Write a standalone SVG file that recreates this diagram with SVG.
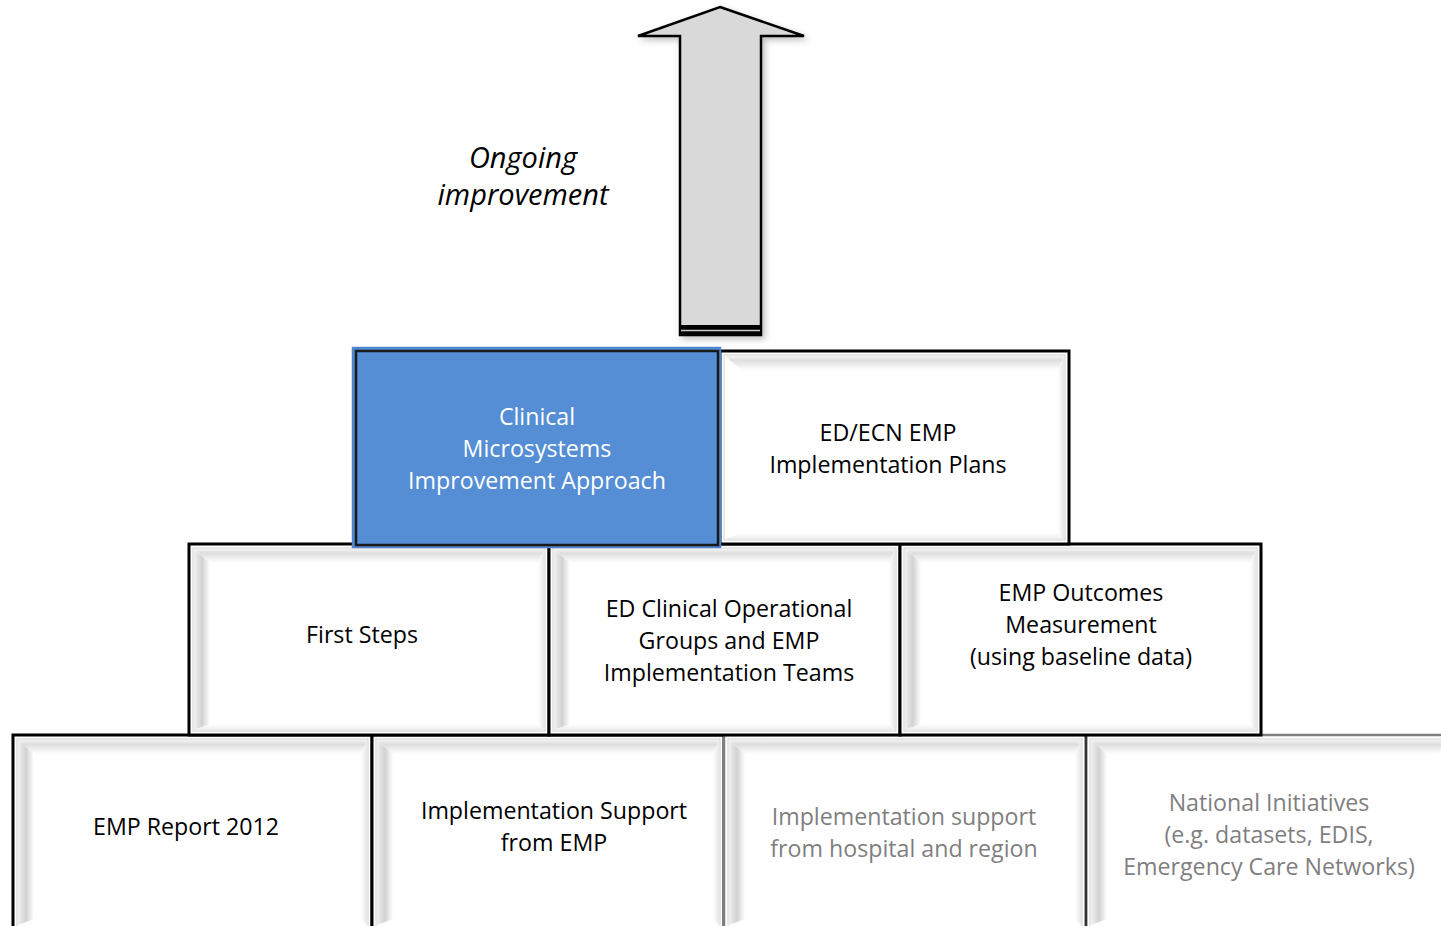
<svg xmlns="http://www.w3.org/2000/svg" width="1441" height="926" viewBox="0 0 1441 926">
<style>
.bx{fill:#ffffff;stroke:#000000;stroke-width:3}
.bxg{fill:#ffffff;stroke:#7f7f7f;stroke-width:2.5}
.in{fill:none;stroke:#cfcfcf;stroke-width:1}
.t{font-family:"Open Sans","Liberation Sans",sans-serif;font-size:23.2px;fill:#000;text-anchor:middle}
.tg{fill:#7f7f7f}
.tw{fill:#ffffff}
.ti{font-family:"Open Sans","Liberation Sans",sans-serif;font-size:29px;font-style:italic;fill:#000;text-anchor:middle}
.bt{fill:url(#gT)}
.bl{fill:url(#gL)}
.br{fill:url(#gR)}
.bb{fill:url(#gB)}
</style>
<defs>
<linearGradient id="gT" x1="0" y1="0" x2="0" y2="1"><stop offset="0" stop-color="#f2f2f2"/><stop offset="0.3" stop-color="#dedede"/><stop offset="1" stop-color="#ffffff"/></linearGradient>
<linearGradient id="gL" x1="0" y1="0" x2="1" y2="0"><stop offset="0" stop-color="#f0f0f0"/><stop offset="0.5" stop-color="#d2d2d2"/><stop offset="1" stop-color="#ffffff"/></linearGradient>
<linearGradient id="gR" x1="0" y1="0" x2="1" y2="0"><stop offset="0" stop-color="#ffffff"/><stop offset="1" stop-color="#e6e6e6"/></linearGradient>
<linearGradient id="gB" x1="0" y1="0" x2="0" y2="1"><stop offset="0" stop-color="#ffffff"/><stop offset="1" stop-color="#ececec"/></linearGradient>
<filter id="sh" x="-20%" y="-10%" width="140%" height="130%"><feDropShadow dx="3" dy="3" stdDeviation="3" flood-color="#000" flood-opacity="0.25"/></filter>
</defs>

<g id="connectors">
<g id="arrow" filter="url(#sh)">
<path d="M720,7 L804,36 L761,36 L761,335 L680,335 L680,36 L638,36 Z" fill="#d9d9d9" stroke="#000" stroke-width="2.5" stroke-linejoin="miter"/>
<rect x="680" y="325" width="81" height="11" fill="#000"/>
<line x1="681" y1="330.5" x2="760" y2="330.5" stroke="#c8c8c8" stroke-width="1.5"/>
</g>
</g>

<g id="label-ongoing">
<text class="ti" x="523" y="168">Ongoing</text>
<text class="ti" x="523" y="205">improvement</text>
</g>

<g id="emp-report">
<rect class="bx" x="13" y="735" width="359" height="200"/>
<polygon class="bt" points="18,740 367,740 361,754 34,754"/>
<polygon class="bl" points="18,740 34,754 34,919 18,925"/>
<polygon class="br" points="367,740 367,925 361,919 361,754"/>
<rect class="in" x="17" y="739" width="351" height="190"/>
<text class="t" x="186" y="835">EMP Report 2012</text>
</g>

<g id="impl-support-emp">
<rect class="bx" x="372" y="735" width="352" height="200"/>
<polygon class="bt" points="377,740 719,740 713,754 393,754"/>
<polygon class="bl" points="377,740 393,754 393,919 377,925"/>
<polygon class="br" points="719,740 719,925 713,919 713,754"/>
<rect class="in" x="376" y="739" width="344" height="190"/>
<text class="t" x="554" y="819">Implementation Support</text>
<text class="t" x="554" y="851">from EMP</text>
</g>

<g id="impl-support-hospital">
<rect class="bxg" x="724" y="735" width="362" height="200"/>
<polygon class="bt" points="729,740 1081,740 1075,754 745,754"/>
<polygon class="bl" points="729,740 745,754 745,919 729,925"/>
<polygon class="br" points="1081,740 1081,925 1075,919 1075,754"/>
<rect class="in" x="728" y="739" width="354" height="190"/>
<text class="t tg" x="904" y="825">Implementation support</text>
<text class="t tg" x="904" y="857">from hospital and region</text>
</g>

<g id="national-initiatives">
<rect class="bxg" x="1086" y="735" width="370" height="200"/>
<line x1="1086" y1="736" x2="1086" y2="926" stroke="#333" stroke-width="2.5"/>
<polygon class="bt" points="1091,740 1445,740 1439,754 1107,754"/>
<polygon class="bl" points="1091,740 1107,754 1107,919 1091,925"/>
<rect class="in" x="1090" y="739" width="360" height="190"/>
<text class="t tg" x="1269" y="811">National Initiatives</text>
<text class="t tg" x="1269" y="843">(e.g. datasets, EDIS,</text>
<text class="t tg" x="1269" y="875">Emergency Care Networks)</text>
</g>

<g id="first-steps">
<rect class="bx" x="189" y="544" width="360" height="191"/>
<polygon class="bt" points="194,549 544,549 538,563 210,563"/>
<polygon class="bl" points="194,549 210,563 210,724 194,730"/>
<polygon class="br" points="544,549 544,730 538,724 538,563"/>
<polygon class="bb" points="194,730 210,724 538,724 544,730"/>
<rect class="in" x="193" y="548" width="352" height="183"/>
<text class="t" x="362" y="643">First Steps</text>
</g>

<g id="ed-clinical">
<rect class="bx" x="549" y="544" width="351" height="191"/>
<polygon class="bt" points="554,549 895,549 889,563 570,563"/>
<polygon class="bl" points="554,549 570,563 570,724 554,730"/>
<polygon class="br" points="895,549 895,730 889,724 889,563"/>
<polygon class="bb" points="554,730 570,724 889,724 895,730"/>
<rect class="in" x="553" y="548" width="343" height="183"/>
<text class="t" x="729" y="617">ED Clinical Operational</text>
<text class="t" x="729" y="649">Groups and EMP</text>
<text class="t" x="729" y="681">Implementation Teams</text>
</g>

<g id="emp-outcomes">
<rect class="bx" x="900" y="544" width="361" height="191"/>
<polygon class="bt" points="905,549 1256,549 1250,563 921,563"/>
<polygon class="bl" points="905,549 921,563 921,724 905,730"/>
<polygon class="br" points="1256,549 1256,730 1250,724 1250,563"/>
<polygon class="bb" points="905,730 921,724 1250,724 1256,730"/>
<rect class="in" x="904" y="548" width="353" height="183"/>
<text class="t" x="1081" y="601">EMP Outcomes</text>
<text class="t" x="1081" y="633">Measurement</text>
<text class="t" x="1081" y="665">(using baseline data)</text>
</g>

<g id="ed-ecn">
<rect class="bx" x="720" y="351" width="349" height="193"/>
<polygon class="bt" points="725,356 1064,356 1058,370 741,370"/>
<polygon class="br" points="1064,356 1064,539 1058,533 1058,370"/>
<polygon class="bb" points="725,539 741,533 1058,533 1064,539"/>
<rect class="in" x="724" y="355" width="341" height="185"/>
<text class="t" x="888" y="441">ED/ECN EMP</text>
<text class="t" x="888" y="473">Implementation Plans</text>
</g>

<g id="clinical-microsystems">
<rect x="353" y="348" width="367" height="199" fill="#558ed5" stroke="#4f86cf" stroke-width="2.5"/>
<rect x="356" y="351" width="362" height="194" fill="none" stroke="#1a1a1a" stroke-width="2.5"/>
<text class="t tw" x="537" y="425">Clinical</text>
<text class="t tw" x="537" y="457">Microsystems</text>
<text class="t tw" x="537" y="489">Improvement Approach</text>
</g>
</svg>
